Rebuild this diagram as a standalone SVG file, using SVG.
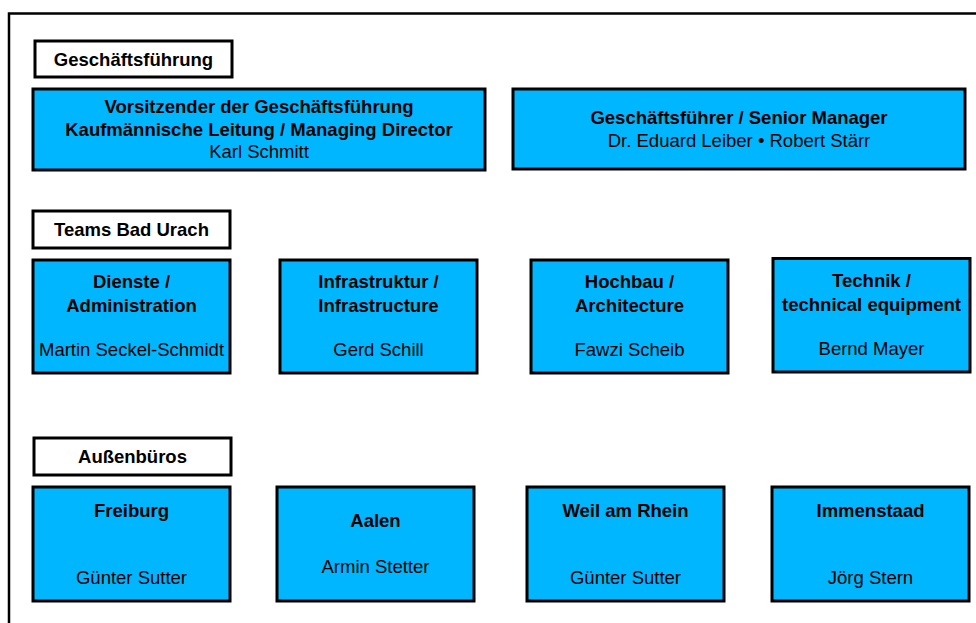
<svg xmlns="http://www.w3.org/2000/svg" width="976" height="623" viewBox="0 0 976 623">
  <style>
    .frame { fill: none; stroke: #000; stroke-width: 2.5; }
    .label { fill: #fff; stroke: #000; stroke-width: 3; }
    .unit { fill: #00B6FF; stroke: #000; stroke-width: 3; }
    text { font-family: "Liberation Sans", Arial, sans-serif; font-size: 18.5px; fill: #000; text-anchor: middle; }
    .b { font-weight: bold; }
  </style>
  <rect width="976" height="623" fill="#fff"/>
  <!-- outer frame, open to the right and bottom -->
  <rect class="frame" x="9" y="13.5" width="1000" height="640"/>

  <g id="connectors"></g>

  <!-- Geschäftsführung -->
  <g id="label-geschaeftsfuehrung">
    <rect class="label" x="35" y="41" width="197" height="36"/>
    <text class="b" x="133.5" y="65.5">Geschäftsführung</text>
  </g>
  <g id="node-vorsitz">
    <rect class="unit" x="33" y="89" width="452" height="81"/>
    <text class="b" x="259" y="112.5">Vorsitzender der Geschäftsführung</text>
    <text class="b" x="259" y="135.5">Kaufmännische Leitung / Managing Director</text>
    <text x="259" y="158">Karl Schmitt</text>
  </g>
  <g id="node-gf">
    <rect class="unit" x="513" y="89" width="452" height="80"/>
    <text class="b" x="739" y="123.5">Geschäftsführer / Senior Manager</text>
    <text x="739" y="146.5">Dr. Eduard Leiber • Robert Stärr</text>
  </g>

  <!-- Teams Bad Urach -->
  <g id="label-teams">
    <rect class="label" x="33" y="211" width="197" height="37"/>
    <text class="b" x="131.5" y="235.5">Teams Bad Urach</text>
  </g>
  <g id="node-dienste">
    <rect class="unit" x="33" y="260" width="197" height="113"/>
    <text class="b" x="131.5" y="288">Dienste /</text>
    <text class="b" x="131.5" y="311.5">Administration</text>
    <text x="131.5" y="355.5">Martin Seckel-Schmidt</text>
  </g>
  <g id="node-infrastruktur">
    <rect class="unit" x="280" y="260" width="197" height="113"/>
    <text class="b" x="378.5" y="288">Infrastruktur /</text>
    <text class="b" x="378.5" y="311.5">Infrastructure</text>
    <text x="378.5" y="355.5">Gerd Schill</text>
  </g>
  <g id="node-hochbau">
    <rect class="unit" x="531" y="260" width="197" height="113"/>
    <text class="b" x="629.5" y="288">Hochbau /</text>
    <text class="b" x="629.5" y="311.5">Architecture</text>
    <text x="629.5" y="355.5">Fawzi Scheib</text>
  </g>
  <g id="node-technik">
    <rect class="unit" x="773" y="258.5" width="197" height="113.5"/>
    <text class="b" x="871.5" y="287">Technik /</text>
    <text class="b" x="871.5" y="310.5">technical equipment</text>
    <text x="871.5" y="355">Bernd Mayer</text>
  </g>

  <!-- Außenbüros -->
  <g id="label-aussenbueros">
    <rect class="label" x="34" y="438" width="197" height="37"/>
    <text class="b" x="132.5" y="462.5">Außenbüros</text>
  </g>
  <g id="node-freiburg">
    <rect class="unit" x="33" y="487" width="197" height="114"/>
    <text class="b" x="131.5" y="517">Freiburg</text>
    <text x="131.5" y="583.5">Günter Sutter</text>
  </g>
  <g id="node-aalen">
    <rect class="unit" x="277" y="487" width="197" height="114"/>
    <text class="b" x="375.5" y="527">Aalen</text>
    <text x="375.5" y="572.5">Armin Stetter</text>
  </g>
  <g id="node-weil">
    <rect class="unit" x="527" y="487" width="197" height="114"/>
    <text class="b" x="625.5" y="517">Weil am Rhein</text>
    <text x="625.5" y="583.5">Günter Sutter</text>
  </g>
  <g id="node-immenstaad">
    <rect class="unit" x="772" y="487" width="197" height="114"/>
    <text class="b" x="870.5" y="517">Immenstaad</text>
    <text x="870.5" y="583.5">Jörg Stern</text>
  </g>
</svg>
